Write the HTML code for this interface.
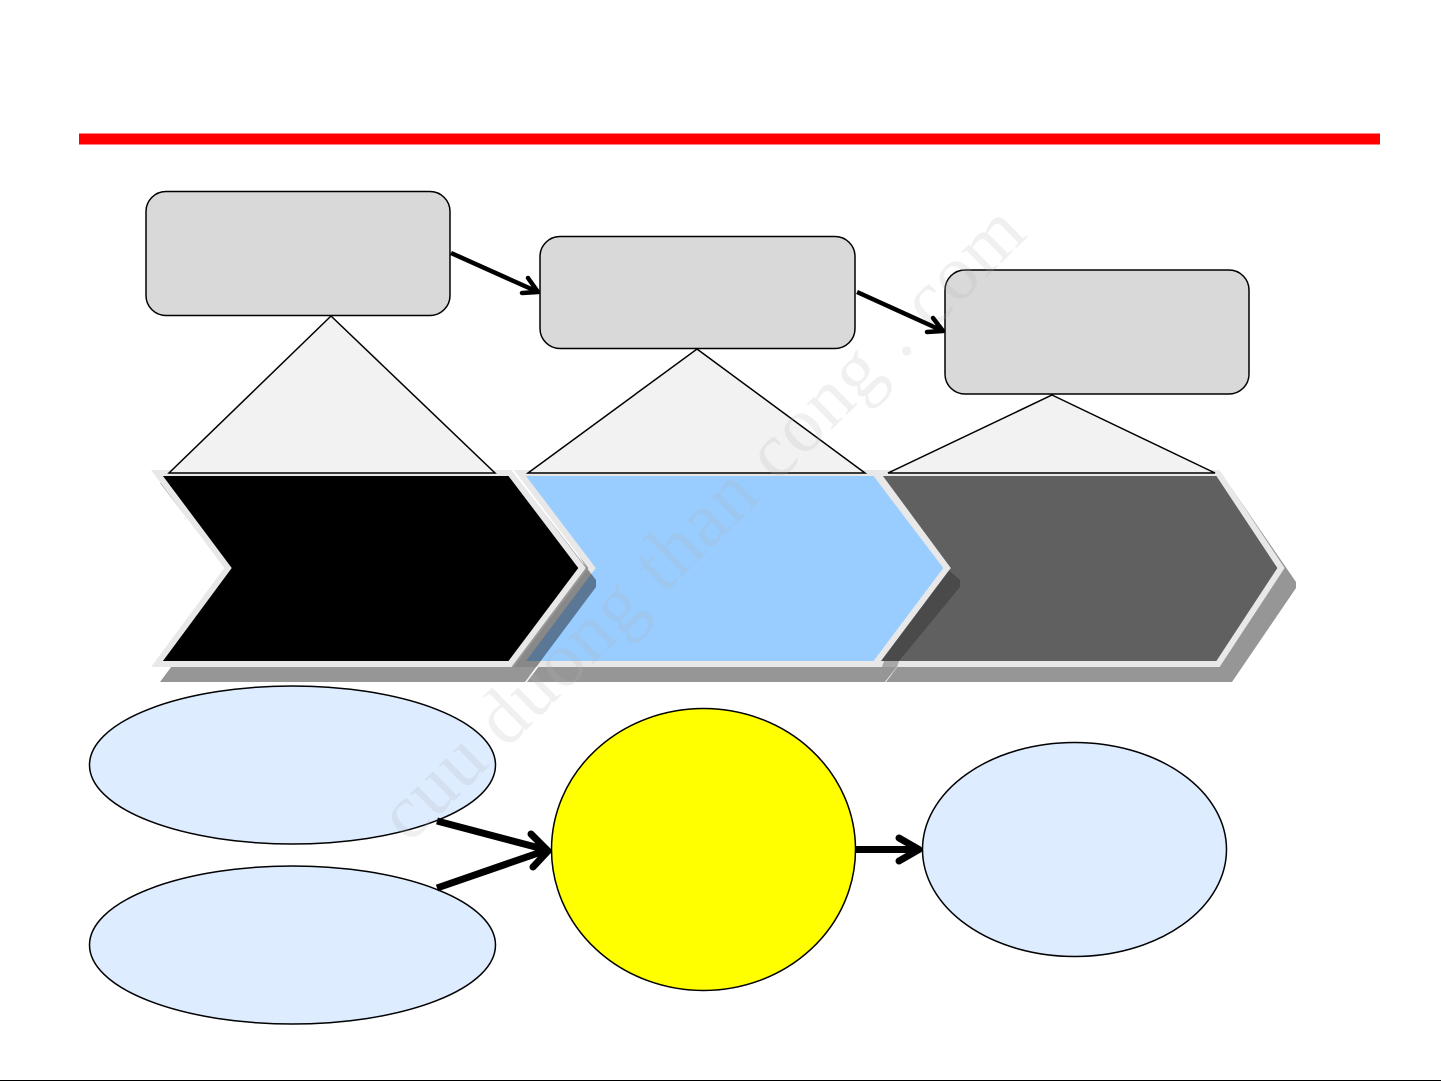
<!DOCTYPE html>
<html><head><meta charset="utf-8"><style>
html,body{margin:0;padding:0;background:#fff;width:1441px;height:1081px;overflow:hidden}
svg{display:block}
</style></head><body>
<svg width="1441" height="1081" viewBox="0 0 1441 1081" xmlns="http://www.w3.org/2000/svg">
<rect width="1441" height="1081" fill="#fff"/>
<rect x="79" y="133.500" width="1301" height="11" fill="#ff0000"/>
<rect x="0" y="1080" width="1441" height="1" fill="#000"/>

<!-- chevrons -->
<polygon points="1228,483 1296,582 1296,588 1232,682 886,682 958,585 887,483" fill="#000" fill-opacity=".41"/>
<polygon points="886,483 960,580 960,587 885,682 527,682 598,587 535,483" fill="#000" fill-opacity=".41"/>
<polygon points="877,473 1218,473 1281,568 1218,664 877,664 947,568" fill="#606060" stroke="#e8e8e8" stroke-width="6" stroke-linejoin="miter"/>
<polygon points="946,568 960,580 960,587 899,661 880,661" fill="#4a4a4a"/>
<polygon points="899,661 897,667 882,667 884,661" fill="#a8a8a8"/>
<polygon points="520,473 875,473 947,568 875,664 520,664 592,568" fill="#99ccff" stroke="#e8e8e8" stroke-width="6"/>
<polygon points="521,483 596,580 596,587 525,682 160,682 232,585 227,570 160,483" fill="#000" fill-opacity=".41"/>
<polygon points="157,473 510,473 582,568 510,664 157,664 228,568" fill="#000" stroke="#e8e8e8" stroke-width="6"/>

<!-- triangles -->
<polygon points="331,316 495,473 169,473" fill="#f2f2f2" stroke="#000" stroke-width="1.500"/>
<polygon points="697,349 865,473 528,473" fill="#f2f2f2" stroke="#000" stroke-width="1.500"/>
<polygon points="1052,395 1215,473 888,473" fill="#f2f2f2" stroke="#000" stroke-width="1.500"/>

<!-- rounded boxes -->
<rect x="146" y="191.500" width="304" height="124" rx="20" fill="#d9d9d9" stroke="#000" stroke-width="1.500"/>
<rect x="540" y="236.500" width="315" height="112" rx="20" fill="#d9d9d9" stroke="#000" stroke-width="1.500"/>
<rect x="945" y="270" width="304" height="124" rx="20" fill="#d9d9d9" stroke="#000" stroke-width="1.500"/>

<!-- ellipses -->
<ellipse cx="292.500" cy="765" rx="203" ry="79" fill="#ddecff" stroke="#000" stroke-width="1.500"/>
<ellipse cx="292.500" cy="945" rx="203" ry="79" fill="#ddecff" stroke="#000" stroke-width="1.500"/>
<ellipse cx="703.500" cy="849.500" rx="152" ry="141" fill="#ffff00" stroke="#000" stroke-width="1.500"/>
<ellipse cx="1074.500" cy="849.500" rx="152" ry="107" fill="#ddecff" stroke="#000" stroke-width="1.500"/>

<!-- watermark -->
<text x="0" y="0" transform="translate(409 845) rotate(-44.500)" font-family="'Liberation Serif',serif" font-size="78" letter-spacing="1" fill="#b4b4b4" fill-opacity=".2">cuu duong than cong . com</text>

<!-- arrows -->
<g fill="none" stroke="#000" stroke-linecap="round" stroke-linejoin="round">
<g stroke-width="4.500">
<line x1="451" y1="253" x2="538" y2="292" stroke-linecap="butt"/>
<polyline points="528,278 538,292 522,293"/>
<line x1="857" y1="292" x2="943" y2="331" stroke-linecap="butt"/>
<polyline points="933,318 943,331 927,332"/>
</g>
<g stroke-width="7">
<line x1="437" y1="821" x2="547" y2="850" stroke-linecap="butt"/>
<line x1="437" y1="888" x2="547" y2="850" stroke-linecap="butt"/>
<polyline points="531,834 548,851 533,867"/>
<line x1="856" y1="849.500" x2="918" y2="849.500" stroke-linecap="butt"/>
<polyline points="899,838 919,849.500 899,861"/>
</g>
</g>
</svg>
</body></html>
